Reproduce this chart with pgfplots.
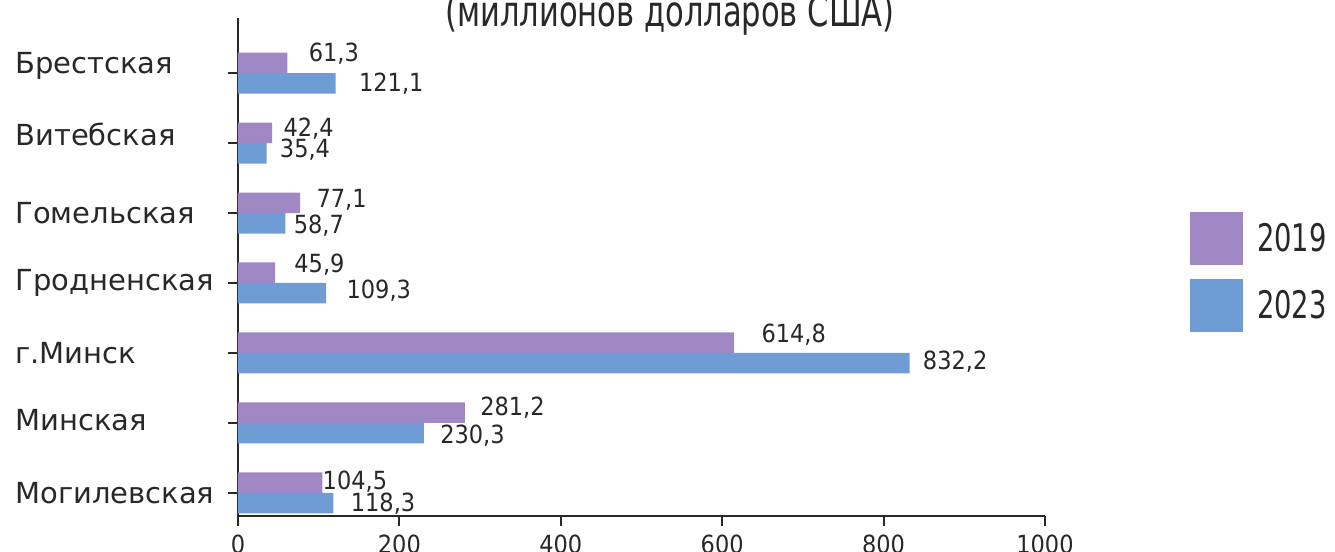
\documentclass[border=0pt]{standalone}
\usepackage{fontspec}
\setmainfont{DejaVu Sans Condensed}
\newfontfamily\catfont{DejaVu Sans}
\usepackage{graphicx}
\usepackage{pgfplots}
\usepackage{pgfplotstable}
\pgfplotsset{compat=1.18}
\definecolor{c2019}{RGB}{160,136,196}
\definecolor{c2023}{RGB}{112,156,214}
\definecolor{axcol}{RGB}{40,40,40}

\pgfplotstableread{
y x dx dy
6 61.3 10.5 4.5
5 42.4 5.5 2
4 77.1 8 1.5
3 45.9 9.5 4
2 614.8 13.5 4
1 281.2 7.5 2.5
0 104.5 0 0.5
}\tabA
\pgfplotstableread{
y x dx dy
6 121.1 11.5 0
5 35.4 6.5 2
4 58.7 4 -1
3 109.3 10 1.5
2 832.2 6.5 1
1 230.3 8 -1
0 118.3 8.5 0
}\tabB

\begin{document}
\begin{tikzpicture}
\begin{axis}[
  xbar,
  scale only axis,
  width=403.5bp, height=249bp,
  xmin=0, xmax=1000,
  ymin=-0.329, ymax=6.786,
  axis x line*=bottom, axis y line*=left,
  axis line style={axcol, line width=0.9bp},
  xtick={0,200,...,1000},
  ytick={0,...,6},
  yticklabels={Могилевская,{\raisebox{1.5bp}[\height][\depth]{Минская}},г.Минск,Гродненская,Гомельская,{\raisebox{4.5bp}[\height][\depth]{Витебская}},{\raisebox{3.5bp}[\height][\depth]{Брестская}}},
  tick style={axcol, line width=0.9bp},
  major tick length=5bp,
  tick align=outside,
  /pgf/number format/assume math mode=true,
  /pgf/number format/1000 sep={},
  xticklabel style={font=\fontsize{12.5bp}{15bp}\selectfont, text=axcol, yshift=-1bp},
  yticklabel style={font=\catfont\fontsize{14.5bp}{17bp}\selectfont, text=axcol, anchor=west, xshift=-106.5bp, inner sep=0pt},
  bar width=10.25bp,
  point meta=x,
  nodes near coords={\pgfmathprintnumber[fixed,fixed zerofill,precision=1,use comma,assume math mode=true]{\pgfplotspointmeta}},
  every node near coord/.append style={font=\fontsize{12.5bp}{15bp}\selectfont, text=axcol, anchor=west, inner sep=0pt, xshift=\dx bp, yshift=\dy bp},
  legend image code/.code={\draw[#1,draw=none] (0bp,-13.25bp) rectangle (26.5bp,13.25bp);},
  legend style={at={(axis description cs:1.1797,0.6104)}, anchor=north west, draw=none, fill=none, inner sep=0pt, outer sep=0pt, row sep=7bp, font=\fontsize{19bp}{22bp}\selectfont, text=axcol, /tikz/every odd column/.append style={column sep=5bp}, /tikz/every even column/.append style={column sep=0bp}},
  legend cell align=left,
]
\addplot[fill=c2019, draw=none, bar shift=5.125bp,
  visualization depends on={\thisrow{dx} \as \dx},
  visualization depends on={\thisrow{dy} \as \dy}]
  table[x=x, y=y] {\tabA};
\addlegendentry{\scalebox{0.8}[1]{2019}}
\addplot[fill=c2023, draw=none, bar shift=-5.125bp,
  visualization depends on={\thisrow{dx} \as \dx},
  visualization depends on={\thisrow{dy} \as \dy}]
  table[x=x, y=y] {\tabB};
\addlegendentry{\scalebox{0.8}[1]{2023}}
\coordinate (O) at (rel axis cs:0,0);
\end{axis}
\node[font=\fontsize{17bp}{20bp}\selectfont, text=axcol, anchor=base, inner sep=0pt] at ([shift={(216bp,244.5bp)}]O) {\scalebox{1}[1.25]{(миллионов долларов США)}};
\pgfresetboundingbox
\path[use as bounding box] ([shift={(-119bp,-18bp)}]O) rectangle ([shift={(548.5bp,258bp)}]O);
\end{tikzpicture}
\end{document}
